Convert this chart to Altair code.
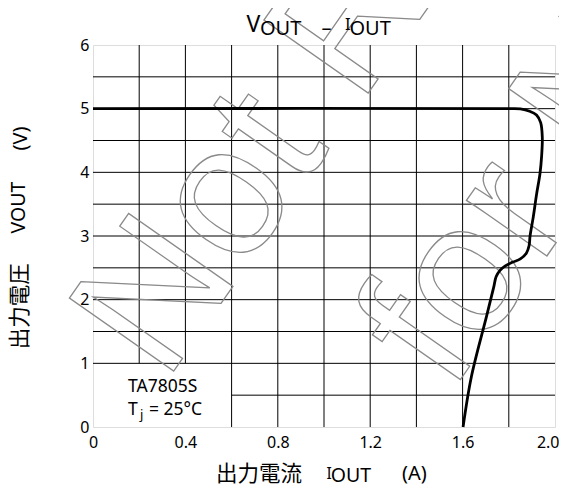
import altair as alt
import pandas as pd

# ---------------- data ----------------
i_out = [0.0, 1.80, 1.85, 1.89, 1.92, 1.938, 1.945, 1.942, 1.935, 1.92, 1.906,
         1.892, 1.888, 1.876, 1.85, 1.818, 1.785, 1.762, 1.745, 1.735, 1.703, 1.638, 1.602]
v_out = [5.0, 5.0, 4.995, 4.96, 4.90, 4.78, 4.55, 4.25, 3.98, 3.65, 3.30,
         3.0, 2.85, 2.73, 2.64, 2.59, 2.53, 2.46, 2.36, 2.2, 1.73, 0.79, 0.0]

x_ticks = [0, 0.4, 0.8, 1.2, 1.6, 2.0]
y_ticks = [0, 1, 2, 3, 4, 5, 6]

vgrid_x = [0.2, 0.4, 0.6, 0.8, 1.0, 1.2, 1.4, 1.6, 1.8]
vgrid_y0 = [1, 1, 0, 0, 0, 0, 0, 0, 0]
hgrid_y = [0.5, 1.0, 1.5, 2.0, 2.5, 3.0, 3.5, 4.0, 4.5, 5.0, 5.5]
hgrid_x0 = [0.6, 0, 0, 0, 0, 0, 0, 0, 0, 0, 0]

watermark_lines = ["Not Recommended", "for New Design"]

# ---------------- layout ----------------
W, H = 462, 382
PADL, PADT, PADR, PADB = 85, 37, 4, 57
OX, OY = 8 + PADL, 8 + PADT  # page position of plot origin
LATIN = "Noto Sans"
CJK = "Noto Sans CJK JP"

xs = alt.Scale(domain=[0, 2.0], nice=False, zero=False)
ys = alt.Scale(domain=[0, 6], nice=False)

x_axis = alt.Axis(values=x_ticks, grid=False, ticks=False, tickSize=0, domain=False,
                  labelExpr="datum.value == 0 ? '0' : format(datum.value, '.1f')",
                  labelFont=LATIN, labelFontSize=16, labelColor="black",
                  labelAlign={"condition": {"test": "datum.value == 2", "value": "right"},
                              "value": "center"},
                  labelOffset={"condition": {"test": "datum.value == 2", "value": 4},
                               "value": 0},
                  labelPadding=7, labelFlush=False, labelOverlap=False, title=None)
y_axis = alt.Axis(values=y_ticks, grid=False, ticks=False, tickSize=0, domain=False,
                  labelFont=LATIN, labelFontSize=16, labelColor="black",
                  labelPadding=4, labelFlush=False, labelOverlap=False,
                  labelBaseline="middle", title=None)

vg_df = pd.DataFrame({"x": vgrid_x, "y0": vgrid_y0, "y1": [6] * len(vgrid_x)})
hg_df = pd.DataFrame({"y": hgrid_y, "x0": hgrid_x0, "x1": [2.0] * len(hgrid_y)})
curve_df = pd.DataFrame({"I": i_out, "V": v_out, "k": list(range(len(i_out)))})

vgrid = alt.Chart(vg_df).mark_rule(color="black", strokeWidth=1).encode(
    x=alt.X("x:Q", scale=xs, axis=x_axis),
    y=alt.Y("y0:Q", scale=ys, axis=y_axis),
    y2="y1:Q",
)
hgrid = alt.Chart(hg_df).mark_rule(color="black", strokeWidth=1).encode(
    x=alt.X("x0:Q", scale=xs, axis=x_axis),
    x2="x1:Q",
    y=alt.Y("y:Q", scale=ys, axis=y_axis),
)


def label(txt, x, y, size, font=LATIN, angle=0, color="black", **kw):
    return alt.Chart(pd.DataFrame({"t": [txt]})).mark_text(
        align="left", baseline="alphabetic", font=font, fontSize=size,
        angle=angle, color=color, **kw
    ).encode(x=alt.value(x - OX), y=alt.value(y - OY), text="t:N")


def wm(txt, x, y):
    return alt.Chart(pd.DataFrame({"t": [txt]})).mark_text(
        align="left", baseline="alphabetic", font="Liberation Sans", fontSize=185,
        angle=305, fill="transparent", fillOpacity=0, stroke="#8a8a8a", strokeWidth=1.3
    ).encode(x=alt.value(x - OX), y=alt.value(y - OY), text="t:N")


watermark = [wm(watermark_lines[0], 165, 383.5), wm(watermark_lines[1], 451, 393)]

curve = alt.Chart(curve_df).mark_line(
    color="black", strokeWidth=2.8, interpolate="catmull-rom"
).encode(
    x=alt.X("I:Q", scale=xs, axis=x_axis),
    y=alt.Y("V:Q", scale=ys, axis=y_axis),
    order=alt.Order("k:Q"),
)

texts = [
    # title  V_OUT - I_OUT
    label("V", 246.5, 31.7, 23),
    label("OUT", 260, 35, 20),
    label("–", 321.5, 35, 20),
    label("I", 345, 30, 16.5),
    label("OUT", 349.5, 35, 20),
    # x title
    label("出力電流", 216, 480.5, 21.5, font=CJK),
    label("I", 326.6, 478.5, 15.5),
    label("OUT", 330.7, 482, 19.5),
    label("(A)", 402, 479.5, 20),
    # y title (rotated)
    label("出力電圧", 26.5, 349.3, 21.5, font=CJK, angle=270),
    label("VOUT", 25, 233.5, 19.5, angle=270),
    label("(V)", 27, 150.5, 20, angle=270),
    # annotation box
    label("TA7805S", 128, 391.5, 17.5),
    label("T", 128, 415, 17.5),
    label("j", 140, 418.5, 13),
    label("= 25°C", 149, 415, 17.5),
]

chart = alt.layer(vgrid, hgrid, *watermark, curve, *texts).properties(
    width=W, height=H,
    autosize=alt.AutoSizeParams(type="none"),
    padding={"left": PADL, "top": PADT, "right": PADR, "bottom": PADB},
).configure_view(stroke="black", strokeWidth=2).configure(background="white")

chart.save("out.html", embed_options={"renderer": "svg", "actions": False})
